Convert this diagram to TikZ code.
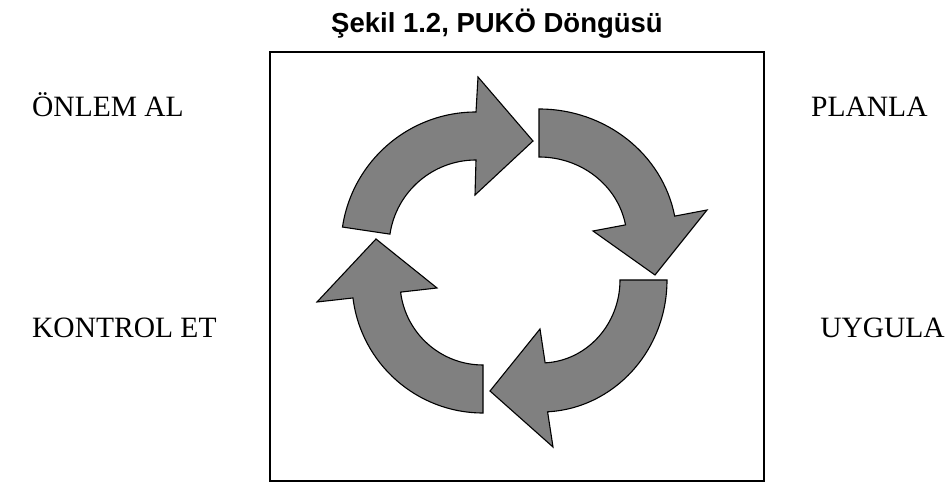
\documentclass[tikz,border=0pt]{standalone}
\usepackage{fontspec}
\setmainfont{Liberation Serif}
\newfontfamily\titlefont{Liberation Sans}
\usetikzlibrary{calc}
\begin{document}
\begin{tikzpicture}[x=1pt,y=1pt,
  cyclearrow/.style={fill={rgb,255:red,128;green,128;blue,128},draw=black,line width=1.1pt,line join=miter},
  frame/.style={draw=black,line width=2pt},
  label/.style={inner sep=0pt,font=\fontsize{29.5}{31}\selectfont},
  heading/.style={inner sep=0pt,font=\titlefont\bfseries\fontsize{27.5}{29}\selectfont}]
\useasboundingbox (0,0) rectangle (948,484);

% heading
\node[heading,anchor=base west] (title) at (331,451) {Şekil 1.2, PUKÖ Döngüsü};

% frame around the cycle
\draw[frame] (270,3) rectangle (764,432);

% stage labels
\node[label,anchor=base west] (onlem)   at (32,367) {ÖNLEM AL};
\node[label,anchor=base west] (planla)  at (811,367) {PLANLA};
\node[label,anchor=base west] (kontrol) at (32,146) {KONTROL ET};
\node[label,anchor=base east] (uygula)  at (945,146) {UYGULA};

% arrow 1: left -> top
\coordinate (c1) at (476,237);
\draw[cyclearrow] ($(c1)+(171.5:135)$) arc[start angle=171.5,end angle=90,radius=135]
  -- (478,407) -- (533,343) -- (475,289) -- ($(c1)+(90:87)$)
  arc[start angle=90,end angle=171.5,radius=87] -- cycle;

% arrow 2: top -> right
\coordinate (c2) at (539,244);
\draw[cyclearrow] ($(c2)+(0,131)$) arc[start angle=90,end angle=10.5,x radius=138,y radius=131]
  -- (707,274) -- (655,209) -- (593,253) -- ($(c2)+({88*cos(10.5)},{83*sin(10.5)})$)
  arc[start angle=10.5,end angle=90,x radius=88,y radius=83] -- cycle;

% arrow 3: right -> bottom
\coordinate (c3) at (541,204);
\draw[cyclearrow] ($(c3)+(126,0)$) arc[start angle=0,end angle=-87,x radius=126,y radius=132]
  -- (553,37) -- (490,93) -- (540,155) -- ($(c3)+({79*cos(-87)},{83*sin(-87)})$)
  arc[start angle=-87,end angle=0,x radius=79,y radius=83] -- cycle;

% arrow 4: bottom -> left
\coordinate (c4) at (483,202);
\draw[cyclearrow] ($(c4)+(270:131)$) arc[start angle=270,end angle=187,radius=131]
  -- (317,182) -- (376,245) -- (437,196) -- ($(c4)+(187:83)$)
  arc[start angle=187,end angle=270,radius=83] -- cycle;
\end{tikzpicture}
\end{document}
